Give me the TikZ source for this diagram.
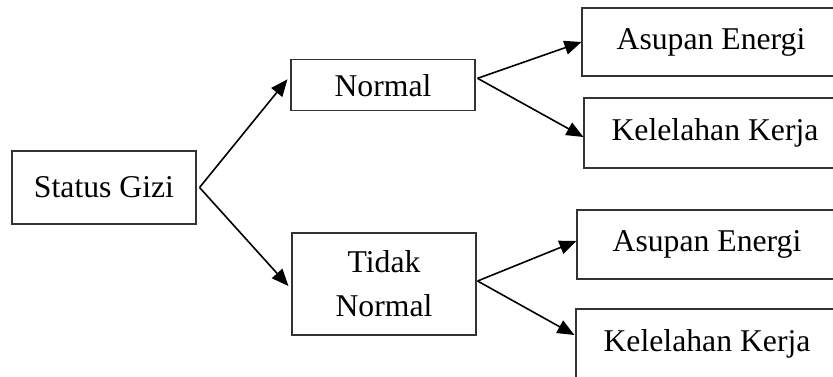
\documentclass[tikz,border=0pt]{standalone}
\usepackage{fontspec}
\setmainfont{Liberation Serif}
\usetikzlibrary{arrows.meta}
\begin{document}
\begin{tikzpicture}[x=1pt,y=-1pt,
  box/.style={draw=black!80, line width=1.1pt, rectangle, inner sep=0pt, align=center,
    font=\fontsize{31.7}{44}\selectfont},
  arr/.style={line width=1.6pt, -{Triangle[length=17pt,width=14pt]}}]
\useasboundingbox (0,0) rectangle (833,376);
\clip (0,0) rectangle (833,376);
\node[box, minimum width=184pt, minimum height=73pt] (sg) at (104,187.5) {Status Gizi};
\node[box, minimum width=184pt, minimum height=51pt] (nm) at (383,85.3) {Normal};
\node[box, minimum width=184pt, minimum height=102pt] (tn) at (384,284) {Tidak\\Normal};
\node[box, minimum width=258pt, minimum height=68pt] (a1) at (711,42) {Asupan Energi};
\node[box, minimum width=262pt, minimum height=70pt] (k1) at (715,133) {Kelelahan Kerja};
\node[box, minimum width=260pt, minimum height=69pt] (a2) at (707,244.5) {Asupan Energi};
\node[box, minimum width=262pt, minimum height=70pt] (k2) at (707,344) {Kelelahan Kerja};
\draw[arr] ([xshift=3pt]sg.east) -- ([xshift=-3pt,yshift=6pt]nm.west);
\draw[arr] ([xshift=3pt]sg.east) -- ([xshift=-3pt,yshift=-2pt]tn.west);
\draw[arr] ([xshift=2pt,yshift=7pt]nm.east) -- (a1.west);
\draw[arr] ([xshift=2pt,yshift=7pt]nm.east) -- ([yshift=-4pt]k1.west);
\draw[arr] ([xshift=1pt,yshift=3pt]tn.east) -- ([yshift=3.5pt]a2.west);
\draw[arr] ([xshift=1pt,yshift=3pt]tn.east) -- ([xshift=-1pt,yshift=9pt]k2.west);
\end{tikzpicture}
\end{document}
